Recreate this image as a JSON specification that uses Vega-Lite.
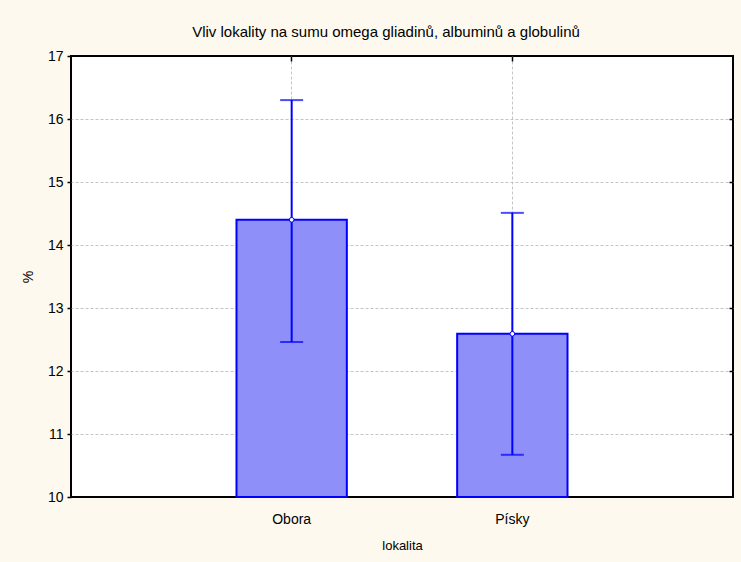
{
  "$schema": "https://vega.github.io/schema/vega-lite/v6.json",
  "width": 662,
  "height": 441,
  "autosize": {"type": "none"},
  "padding": {"left": 71, "top": 56, "right": 8, "bottom": 65},
  "background": "#FEF9EE",
  "config": {
    "view": {"fill": "white", "stroke": "black", "strokeWidth": 2},
    "font": "Liberation Sans",
    "axis": {
      "labelFont": "Liberation Sans",
      "titleFont": "Liberation Sans",
      "labelColor": "black",
      "titleColor": "black",
      "labelFontSize": 14,
      "titleFontSize": 13,
      "titleFontWeight": "normal",
      "domain": false,
      "tickColor": "black",
      "tickWidth": 1.5,
      "gridColor": "#c4c4c4",
      "gridDash": [3, 2],
      "gridWidth": 1
    }
  },
  "title": {
    "text": "Vliv lokality na sumu omega gliadinů, albuminů a globulinů",
    "fontSize": 15,
    "fontWeight": "normal",
    "font": "Liberation Sans",
    "color": "black",
    "anchor": "middle",
    "dx": -16,
    "offset": 9
  },
  "data": {
    "values": [
      {"lokalita": "Obora", "mean": 14.4, "lo": 12.46, "hi": 16.3},
      {"lokalita": "Písky", "mean": 12.59, "lo": 10.67, "hi": 14.51}
    ]
  },
  "resolve": {"axis": {"x": "independent", "y": "independent"}},
  "layer": [
    {
      "mark": {"type": "bar", "fill": "#8f8ffa", "stroke": "#0000ff", "strokeWidth": 2},
      "encoding": {
        "x": {
          "field": "lokalita",
          "type": "nominal",
          "sort": null,
          "scale": {"paddingInner": 0.5, "paddingOuter": 0.75},
          "axis": {"title": "lokalita", "labelAngle": 0, "tickSize": -5, "labelPadding": 20, "titlePadding": 13, "grid": true, "orient": "bottom"}
        },
        "y": {
          "field": "mean",
          "type": "quantitative",
          "scale": {"domain": [10, 17], "nice": false, "zero": false},
          "axis": {"title": "%", "titleFontSize": 14, "values": [10, 11, 12, 13, 14, 15, 16, 17], "tickSize": 4, "labelPadding": 4, "titlePadding": 12, "grid": false}
        },
        "y2": {"datum": 10}
      }
    },
    {
      "mark": {"type": "rule", "color": "#0000ff", "strokeWidth": 2},
      "encoding": {
        "x": {
          "field": "lokalita",
          "type": "nominal",
          "sort": null,
          "axis": {"orient": "top", "title": null, "labels": false, "tickSize": -5, "grid": false}
        },
        "y": {
          "field": "lo",
          "type": "quantitative",
          "axis": {"orient": "right", "title": null, "labels": false, "tickSize": -4, "grid": true, "values": [11, 12, 13, 14, 15, 16]}
        },
        "y2": {"field": "hi"}
      }
    },
    {
      "mark": {"type": "tick", "color": "#0000ff", "thickness": 2, "size": 23},
      "encoding": {
        "x": {"field": "lokalita", "type": "nominal", "sort": null, "axis": null},
        "y": {"field": "hi", "type": "quantitative", "axis": null}
      }
    },
    {
      "mark": {"type": "tick", "color": "#0000ff", "thickness": 2, "size": 23},
      "encoding": {
        "x": {"field": "lokalita", "type": "nominal", "sort": null, "axis": null},
        "y": {"field": "lo", "type": "quantitative", "axis": null}
      }
    },
    {
      "mark": {"type": "point", "filled": true, "fill": "white", "stroke": "#0000ff", "strokeWidth": 1, "size": 22, "opacity": 1},
      "encoding": {
        "x": {"field": "lokalita", "type": "nominal", "sort": null, "axis": null},
        "y": {"field": "mean", "type": "quantitative", "axis": null}
      }
    }
  ]
}
